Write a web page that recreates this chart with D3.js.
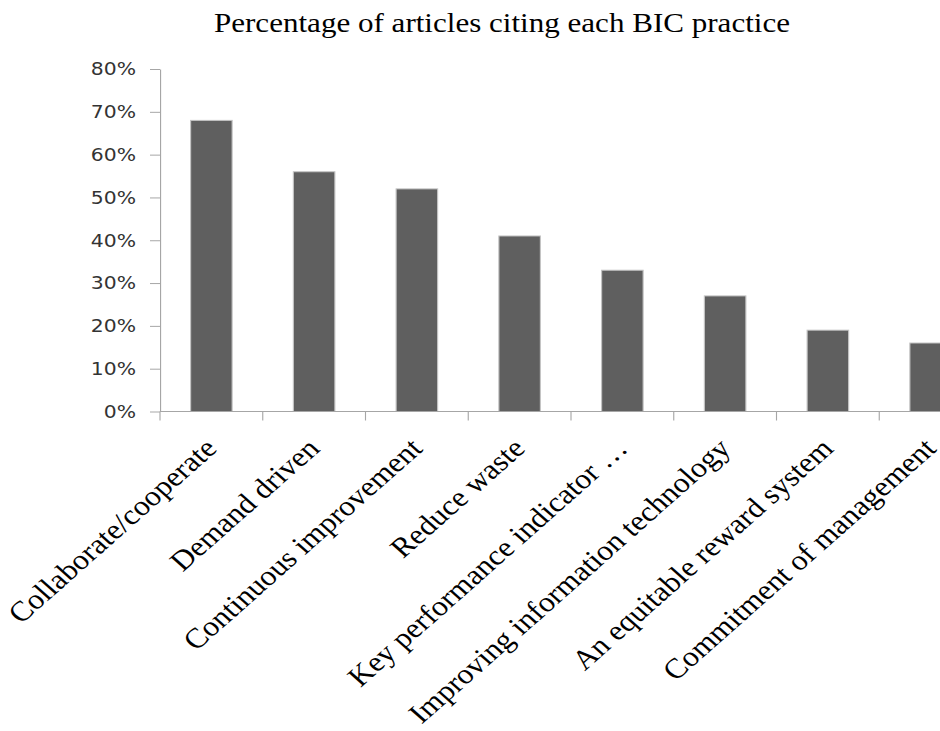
<!DOCTYPE html>
<html>
<head>
<meta charset="utf-8">
<script src="https://cdn.jsdelivr.net/npm/d3@7"></script>
<style>
  body { margin: 0; background: #fff; }
  svg { display: block; }
</style>
</head>
<body>
<svg id="chart"></svg>
<script>
// data
let categories = ["Collaborate/cooperate", "Demand driven", "Continuous improvement", "Reduce waste",
    "Key performance indicator …", "Improving information technology", "An equitable reward system",
    "Commitment of management"]
let values = [0.68, 0.56, 0.52, 0.41, 0.33, 0.27, 0.19, 0.16]
let yTicks = [0, 0.1, 0.2, 0.3, 0.4, 0.5, 0.6, 0.7, 0.8]
let title = "Percentage of articles citing each BIC practice"

// the original picture is stretched sideways a bit, so draw in a narrower box and let it stretch
let sx = 1.13
let width = 940, height = 731
let W = width / sx

let svg = d3.select('#chart')
    .attr("width", width)
    .attr("height", height)
    .attr("viewBox", "0 0 " + W + " " + height)
    .attr("preserveAspectRatio", "none")

let x = d3.scaleBand()
    .domain(categories)
    .range([160 / sx, 982 / sx])
    .paddingInner(0.596)
    .paddingOuter(0.298)

let y = d3.scaleLinear()
    .domain([0, 0.8])
    .range([411.5, 69])

let axisColor = "#a6a6a6"

// y axis
let yAxis = svg.append("g")
    .attr("transform", "translate(" + (160 / sx) + ",0)")
    .call(d3.axisLeft(y)
        .tickValues(yTicks)
        .tickFormat(d3.format(".0%"))
        .tickSize(10 / sx)
        .tickSizeOuter(0)
        .tickPadding(14 / sx))
yAxis.select(".domain").attr("stroke", axisColor)
yAxis.selectAll(".tick line").attr("stroke", axisColor)
yAxis.selectAll(".tick text")
    .style("font-family", "'DejaVu Sans', sans-serif")
    .style("font-size", "18px")
    .attr("fill", "#333")

// bars
svg.append("g")
    .selectAll("rect")
    .data(values)
    .join("rect")
    .attr("x", (d, i) => x(categories[i]))
    .attr("y", d => y(d))
    .attr("width", x.bandwidth())
    .attr("height", d => y(0) - y(d))
    .attr("fill", "#5f5f5f")
    .attr("stroke", "#c4c4c4")
    .attr("stroke-width", 1)

// x axis: line at zero with ticks between the categories
let gx = svg.append("g")
gx.append("line")
    .attr("x1", 160 / sx).attr("x2", W)
    .attr("y1", y(0)).attr("y2", y(0))
    .attr("stroke", axisColor)
let gap = (x.step() - x.bandwidth()) / 2
gx.selectAll(".tk")
    .data(categories)
    .join("line")
    .attr("class", "tk")
    .attr("x1", d => x(d) - gap).attr("x2", d => x(d) - gap)
    .attr("y1", y(0)).attr("y2", y(0) + 9)
    .attr("stroke", axisColor)

// slanted category labels
gx.selectAll(".lbl")
    .data(categories)
    .join("text")
    .attr("class", "lbl")
    .attr("transform", d => "translate(" + (x(d) + x.bandwidth() / 2 + 7 / sx) + "," + 450 + ") rotate(-45)")
    .attr("text-anchor", "end")
    .style("font-family", "'Liberation Serif', 'Times New Roman', serif")
    .style("font-size", "28px")
    .attr("fill", "#000")
    .text(d => d)

// title
svg.append("text")
    .attr("x", 502 / sx)
    .attr("y", 32)
    .attr("text-anchor", "middle")
    .style("font-family", "'Liberation Serif', 'Times New Roman', serif")
    .style("font-size", "27.5px")
    .attr("fill", "#000")
    .text(title)
</script>
</body>
</html>
